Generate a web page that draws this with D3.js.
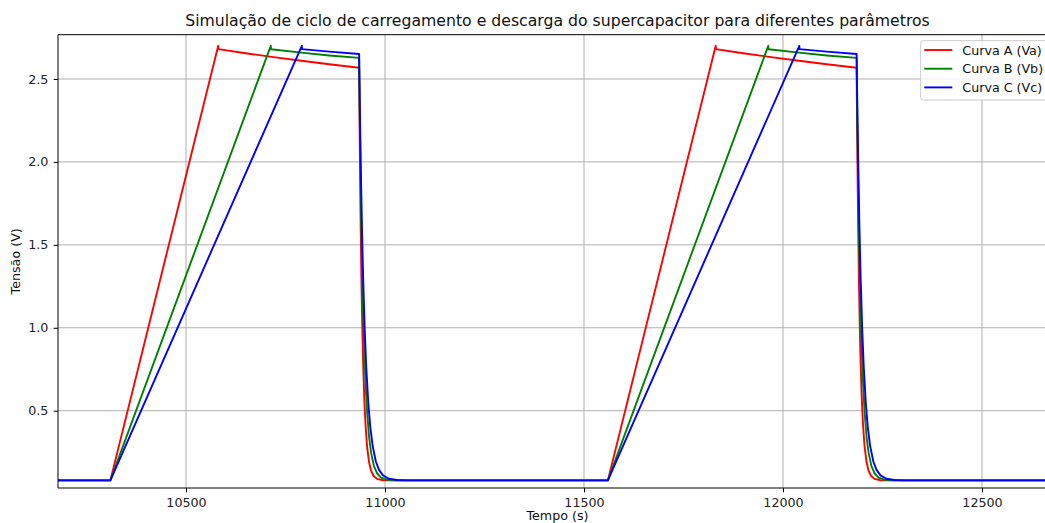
<!DOCTYPE html>
<html>
<head>
<meta charset="utf-8">
<script src="https://cdn.jsdelivr.net/npm/d3@7"></script>
<style>
  html, body { margin: 0; padding: 0; background: #fff; }
  svg { display: block; font-family: "DejaVu Sans", sans-serif; }
</style>
</head>
<body>
<svg id="chart" width="1045" height="523"></svg>
<script>
// ---- data ----
const titleText = "Simulação de ciclo de carregamento e descarga do supercapacitor para diferentes parâmetros";
const xLabel = "Tempo (s)";
const yLabel = "Tensão (V)";
const xTicks = [10500, 11000, 11500, 12000, 12500];
const yTicks = [0.5, 1.0, 1.5, 2.0, 2.5];
const seriesNames = ["Curva A (Va)", "Curva B (Vb)", "Curva C (Vc)"];
const seriesColors = ["red", "green", "blue"];

const tempoA = [10100, 10310, 10581, 10581.5, 10650, 10720, 10790, 10860, 10935,
  10936, 10937, 10939, 10941, 10943, 10945, 10948, 10951, 10955, 10960, 10965, 10971, 10980, 10995, 11015,
  11560, 11831, 11831.5, 11900, 11970, 12040, 12110, 12185,
  12186, 12187, 12189, 12191, 12193, 12195, 12198, 12201, 12205, 12210, 12215, 12221, 12230, 12245, 12265, 12750];
const tensaoA = [0.08, 0.08, 2.70, 2.68, 2.655, 2.632, 2.610, 2.589, 2.568,
  2.276, 2.018, 1.589, 1.255, 0.995, 0.793, 0.570, 0.417, 0.284, 0.189, 0.139, 0.108, 0.089, 0.081, 0.080,
  0.08, 2.70, 2.68, 2.655, 2.632, 2.610, 2.589, 2.568,
  2.276, 2.018, 1.589, 1.255, 0.995, 0.793, 0.570, 0.417, 0.284, 0.189, 0.139, 0.108, 0.089, 0.081, 0.080, 0.08];

const tempoB = [10100, 10310, 10713, 10713.5, 10790, 10860, 10935,
  10936, 10937, 10939, 10941, 10944, 10947, 10951, 10955, 10960, 10965, 10972, 10980, 10990, 11005, 11025,
  11560, 11963, 11963.5, 12040, 12110, 12185,
  12186, 12187, 12189, 12191, 12194, 12197, 12201, 12205, 12210, 12215, 12222, 12230, 12240, 12255, 12275, 12750];
const tensaoB = [0.08, 0.08, 2.70, 2.679, 2.659, 2.642, 2.627,
  2.406, 2.204, 1.850, 1.556, 1.204, 0.936, 0.675, 0.493, 0.342, 0.247, 0.168, 0.123, 0.097, 0.084, 0.080,
  0.08, 2.70, 2.679, 2.659, 2.642, 2.627,
  2.406, 2.204, 1.850, 1.556, 1.204, 0.936, 0.675, 0.493, 0.342, 0.247, 0.168, 0.123, 0.097, 0.084, 0.080, 0.08];

const tempoC = [10100, 10310, 10791, 10791.5, 10860, 10935,
  10936, 10937, 10939, 10942, 10945, 10949, 10953, 10958, 10963, 10969, 10977, 10985, 10995, 11010, 11030, 11055,
  11560, 12041, 12041.5, 12110, 12185,
  12186, 12187, 12189, 12192, 12195, 12199, 12203, 12208, 12213, 12219, 12227, 12235, 12245, 12260, 12280, 12305, 12750];
const tensaoC = [0.08, 0.08, 2.70, 2.680, 2.665, 2.651,
  2.467, 2.297, 1.992, 1.611, 1.306, 0.991, 0.758, 0.548, 0.403, 0.287, 0.194, 0.143, 0.110, 0.090, 0.082, 0.080,
  0.08, 2.70, 2.680, 2.665, 2.651,
  2.467, 2.297, 1.992, 1.611, 1.306, 0.991, 0.758, 0.548, 0.403, 0.287, 0.194, 0.143, 0.110, 0.090, 0.082, 0.080, 0.08];

// ---- layout ----
const svg = d3.select("#chart");
const plotLeft = 58, plotTop = 34.7, plotBottom = 488;
const pxPerUnit = 0.398;
const xMin = 10178.4, xMax = 12700;
const plotRight = plotLeft + (xMax - xMin) * pxPerUnit;

const x = d3.scaleLinear().domain([xMin, xMax]).range([plotLeft, plotRight]);
const y = d3.scaleLinear().domain([0.034, 2.767]).range([plotBottom, plotTop]);

const tickFont = 12.7;
const gridColor = "#b0b0b0";

// grid
svg.append("g").selectAll("line").data(xTicks).join("line")
  .attr("x1", d => x(d)).attr("x2", d => x(d))
  .attr("y1", plotTop).attr("y2", plotBottom)
  .attr("stroke", gridColor).attr("stroke-width", 1.0);
svg.append("g").selectAll("line").data(yTicks).join("line")
  .attr("x1", plotLeft).attr("x2", plotRight)
  .attr("y1", d => y(d)).attr("y2", d => y(d))
  .attr("stroke", gridColor).attr("stroke-width", 1.0);

// clip
svg.append("clipPath").attr("id", "clip")
  .append("rect").attr("x", plotLeft).attr("y", plotTop)
  .attr("width", plotRight - plotLeft).attr("height", plotBottom - plotTop);

const series = [
  { t: tempoA, v: tensaoA },
  { t: tempoB, v: tensaoB },
  { t: tempoC, v: tensaoC }
];
const line = d3.line().x(d => x(d[0])).y(d => y(d[1]));
const gLines = svg.append("g").attr("clip-path", "url(#clip)");
series.forEach((s, i) => {
  const pts = s.t.map((t, k) => [t, s.v[k]]);
  gLines.append("path").datum(pts)
    .attr("d", line)
    .attr("fill", "none")
    .attr("stroke", seriesColors[i])
    .attr("stroke-width", 1.9)
    .attr("stroke-linejoin", "round")
    .attr("stroke-linecap", "square");
});

// axes
const xAxis = d3.axisBottom(x).tickValues(xTicks).tickFormat(d3.format("d"))
  .tickSize(4.3).tickPadding(5.3);
const gx = svg.append("g").attr("transform", `translate(0,${plotBottom})`).call(xAxis);
const yAxis = d3.axisLeft(y).tickValues(yTicks).tickFormat(d3.format(".1f"))
  .tickSize(4.3).tickPadding(5.4);
const gy = svg.append("g").attr("transform", `translate(${plotLeft},0)`).call(yAxis);
[gx, gy].forEach(g => {
  g.select(".domain").remove();
  g.selectAll(".tick line").attr("stroke", "#000").attr("stroke-width", 1.0);
  g.selectAll(".tick text").attr("fill", "#222").style("font-size", tickFont + "px")
    .style("font-family", "DejaVu Sans");
});

// spines
const spine = svg.append("g").attr("stroke", "#000").attr("stroke-width", 1.0).attr("fill", "none");
spine.append("line").attr("x1", plotLeft).attr("x2", plotLeft).attr("y1", plotTop).attr("y2", plotBottom);
spine.append("line").attr("x1", plotLeft).attr("x2", plotRight).attr("y1", plotBottom).attr("y2", plotBottom);
spine.append("line").attr("x1", plotLeft).attr("x2", plotRight).attr("y1", plotTop).attr("y2", plotTop);
spine.append("line").attr("x1", plotRight).attr("x2", plotRight).attr("y1", plotTop).attr("y2", plotBottom);

// title and labels
const centerX = 557.5;
svg.append("text").attr("x", centerX).attr("y", 26.4)
  .attr("text-anchor", "middle").style("font-size", "15.7px").attr("fill", "#111")
  .text(titleText);
svg.append("text").attr("x", centerX).attr("y", 520)
  .attr("text-anchor", "middle").style("font-size", tickFont + "px").attr("fill", "#111")
  .text(xLabel);
svg.append("text").attr("transform", `translate(19.5,${(plotTop + plotBottom) / 2}) rotate(-90)`)
  .attr("text-anchor", "middle").style("font-size", tickFont + "px").attr("fill", "#111")
  .text(yLabel);

// legend
const lg = svg.append("g");
lg.append("rect").attr("x", 920.7).attr("y", 40.7).attr("width", 136).attr("height", 59.3)
  .attr("rx", 2.8).attr("ry", 2.8)
  .attr("fill", "#fff").attr("fill-opacity", 0.8)
  .attr("stroke", "#cccccc").attr("stroke-width", 1.0);
const legendY = [50, 68.7, 87.4];
seriesNames.forEach((name, i) => {
  lg.append("line").attr("x1", 924.3).attr("x2", 952.3)
    .attr("y1", legendY[i]).attr("y2", legendY[i])
    .attr("stroke", seriesColors[i]).attr("stroke-width", 1.9);
  lg.append("text").attr("x", 962.3).attr("y", legendY[i]).attr("dy", "0.36em")
    .style("font-size", tickFont + "px").attr("fill", "#111").text(name);
});
</script>
</body>
</html>
